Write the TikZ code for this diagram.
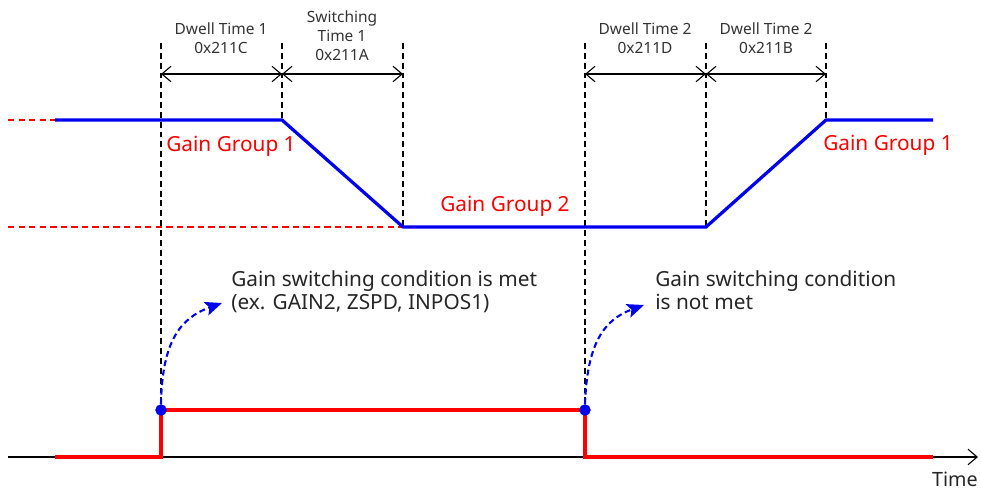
\documentclass[tikz,border=0pt]{standalone}
\usepackage{fontspec}
\setmainfont{Noto Sans}
\usepackage{tikz}
\usetikzlibrary{positioning,arrows.meta,calc}
\definecolor{sigRed}{HTML}{FF0000}
\definecolor{sigBlue}{HTML}{0000F0}

\begin{document}
\begin{tikzpicture}[
  x=0.025cm, y=-0.025cm,
  >=Stealth,
  guide/.style={draw=black, line width=0.8pt, dash pattern=on 4.2pt off 2.8pt},
  levelguide/.style={draw=sigRed, line width=0.8pt, dash pattern=on 4.5pt off 3pt},
  span/.style={draw=black, line width=0.8pt, {Straight Barb[length=6.5pt,width=11pt]}-{Straight Barb[length=6.5pt,width=11pt]}},
  gaincurve/.style={draw=sigBlue, line width=2.3pt},
  sigline/.style={draw=sigRed, line width=2.3pt},
  spanlabel/.style={font=\fontsize{11}{13.5}\selectfont, text=black!80, align=center, inner sep=0pt},
  grouplabel/.style={font=\fontsize{14.8}{17}\selectfont, text=sigRed, inner sep=0pt, anchor=base west},
  condlabel/.style={font=\fontsize{14.8}{16.4}\selectfont, text=black!85, align=left, inner sep=0pt, anchor=north west},
  trigger/.style={draw=sigBlue, line width=1.5pt, dash pattern=on 4.2pt off 2.6pt, -{Stealth[length=12pt,width=10pt,inset=2.5pt]}},
  edgedot/.style={circle, fill=sigBlue, inner sep=0pt, minimum size=8pt}
]
  \useasboundingbox (0,0) rectangle (981,491);

  % time marks
  \coordinate (t1) at (161,74);
  \coordinate (t2) at (282,74);
  \coordinate (t3) at (403,74);
  \coordinate (t4) at (585,74);
  \coordinate (t5) at (706,74);
  \coordinate (t6) at (826,74);

  % gain levels
  \coordinate (hiA) at (55,120);
  \coordinate (hiB) at (282,120);
  \coordinate (loA) at (403,227);
  \coordinate (loB) at (706,227);
  \coordinate (hiC) at (826,120);
  \coordinate (hiD) at (933,120);

  % signal
  \coordinate (s0) at (55,457);
  \coordinate (s1) at (161,457);
  \coordinate (s2) at (161,410);
  \coordinate (s3) at (585,410);
  \coordinate (s4) at (585,457);
  \coordinate (s5) at (933,457);

  % dashed guides
  \draw[guide] (161,43) -- (s2);
  \draw[guide] (282,43) -- (hiB);
  \draw[guide] (403,43) -- (loA);
  \draw[guide] (585,43) -- (s4);
  \draw[guide] (706,43) -- (loB);
  \draw[guide] (826,43) -- (hiC);
  \draw[levelguide] (8,120) -- (hiA);
  \draw[levelguide] (8,227) -- (loA);

  % spans
  \draw[span] (t1) -- (t2);
  \draw[span] (t2) -- (t3);
  \draw[span] (t4) -- (t5);
  \draw[span] (t5) -- (t6);
  \node[spanlabel] (dw1) at (221,38) {Dwell Time 1\\0x211C};
  \node[spanlabel] (sw1) at (342,36) {Switching\\Time 1\\0x211A};
  \node[spanlabel] (dw2) at (645,38) {Dwell Time 2\\0x211D};
  \node[spanlabel] (dw3) at (766,38) {Dwell Time 2\\0x211B};

  % gain curve
  \draw[gaincurve] (hiA) -- (hiB) -- (loA) -- (loB) -- (hiC) -- (hiD);
  \node[grouplabel] (gg1) at (166,152) {Gain Group 1};
  \node[grouplabel] (gg2) at (440,212) {Gain Group 2};
  \node[grouplabel] (gg3) at (823,151) {Gain Group 1};

  % time axis
  \coordinate (ax0) at (8,457);
  \coordinate (ax1) at (978,457);
  \draw[line width=0.8pt, -{Straight Barb[length=6.5pt,width=11pt]}] (ax0) -- (ax1);
  \node[font=\fontsize{14}{16}\selectfont, text=black!85, anchor=base east, inner sep=0pt] (tlabel) at (978,486) {Time};

  \draw[sigline] (s0) -- (s1) -- (s2) -- (s3) -- (s4) -- (s5);
  \node[edgedot] (on) at (s2) {};
  \node[edgedot] (off) at (s3) {};
  \fill[sigBlue] (on.center) circle[radius=5.5];
  \fill[sigBlue] (off.center) circle[radius=5.5];

  % conditions
  \node[condlabel] (cond1) at (231,270) {Gain switching condition is met\\(ex. GAIN2, ZSPD, INPOS1)};
  \node[condlabel] (cond2) at (655,270) {Gain switching condition\\is not met};
  \coordinate (tip1) at (222,303);
  \coordinate (tip2) at (644,305);
  \draw[trigger] (on.north) .. controls (162,342) and (180,318) .. (tip1);
  \draw[trigger] (off.north) .. controls (587,345) and (603,320) .. (tip2);
\end{tikzpicture}
\end{document}
